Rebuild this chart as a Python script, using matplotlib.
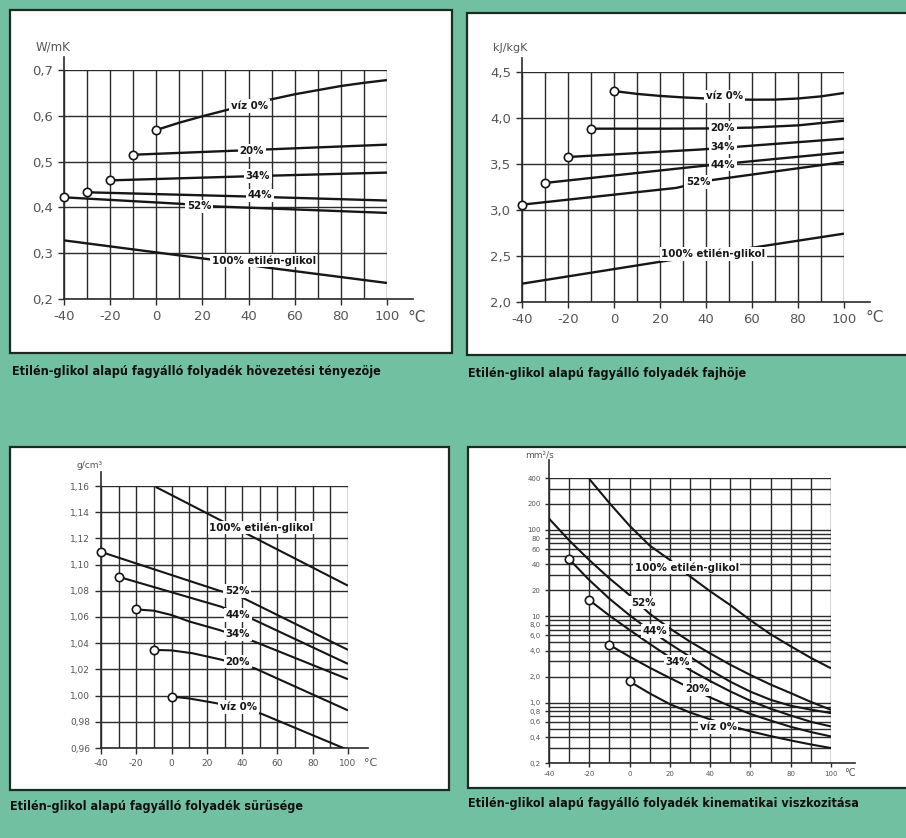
import numpy as np
import matplotlib
matplotlib.use("Agg")
import matplotlib.pyplot as plt
from matplotlib import font_manager as fm
from matplotlib.patches import Rectangle
from matplotlib.ticker import NullLocator

# ------------------------------------------------------------------ data
captions = [
    "Etilén-glikol alapú fagyálló folyadék hövezetési tényezöje",
    "Etilén-glikol alapú fagyálló folyadék fajhöje",
    "Etilén-glikol alapú fagyálló folyadék sürüsége",
    "Etilén-glikol alapú fagyálló folyadék kinematikai viszkozitása",
]
units = ["W/mK", "kJ/kgK", "g/cm³", "mm²/s"]
series_labels = ["víz 0%", "20%", "34%", "44%", "52%", "100% etilén-glikol"]

x_ticks = [-40, -20, 0, 20, 40, 60, 80, 100]
x_ticklabels = ["-40", "-20", "0", "20", "40", "60", "80", "100"]

k_ticks = [0.2, 0.3, 0.4, 0.5, 0.6, 0.7]
k_ticklabels = ["0,2", "0,3", "0,4", "0,5", "0,6", "0,7"]
k_T_viz = [0, 10, 20, 30, 40, 50, 60, 70, 80, 90, 100]
k_viz = [0.569, 0.585, 0.599, 0.612, 0.625, 0.636, 0.647, 0.656, 0.665, 0.672, 0.678]
k_T_20 = [-10, 30, 100]
k_20 = [0.515, 0.523, 0.537]
k_T_34 = [-20, 40, 100]
k_34 = [0.459, 0.468, 0.476]
k_T_44 = [-30, 38, 100]
k_44 = [0.433, 0.424, 0.415]
k_T_52 = [-40, 10, 26, 100]
k_52 = [0.422, 0.408, 0.402, 0.388]
k_T_100 = [-40, 24, 49, 100]
k_100 = [0.328, 0.286, 0.268, 0.235]

c_ticks = [2.0, 2.5, 3.0, 3.5, 4.0, 4.5]
c_ticklabels = ["2,0", "2,5", "3,0", "3,5", "4,0", "4,5"]
c_T_viz = [0, 10, 20, 30, 40, 50, 60, 70, 80, 90, 100]
c_viz = [4.293, 4.262, 4.240, 4.224, 4.212, 4.203, 4.199, 4.200, 4.212, 4.235, 4.272]
c_T_20 = [-10, 0, 20, 40, 60, 80, 100]
c_20 = [3.884, 3.884, 3.884, 3.886, 3.896, 3.920, 3.970]
c_T_34 = [-20, 38, 100]
c_34 = [3.576, 3.658, 3.775]
c_T_44 = [-30, 35, 100]
c_44 = [3.294, 3.470, 3.627]
c_T_52 = [-40, 27, 41, 100]
c_52 = [3.058, 3.240, 3.320, 3.522]
c_T_100 = [-40, 24, 64, 100]
c_100 = [2.199, 2.453, 2.605, 2.743]

d_ticks = [0.96, 0.98, 1.00, 1.02, 1.04, 1.06, 1.08, 1.10, 1.12, 1.14, 1.16]
d_ticklabels = ["0,96", "0,98", "1,00", "1,02", "1,04", "1,06", "1,08", "1,10",
                "1,12", "1,14", "1,16"]
d_T_viz = [0, 10, 25, 51, 100]
d_viz = [0.9993, 0.9978, 0.9943, 0.9861, 0.9585]
d_T_20 = [-10, 0, 12, 27, 47, 100]
d_20 = [1.0349, 1.0345, 1.0323, 1.0278, 1.0209, 0.9887]
d_T_34 = [-20, -10, 0, 10, 27, 47, 100]
d_34 = [1.0658, 1.0648, 1.0615, 1.0566, 1.0501, 1.0412, 1.0125]
d_T_44 = [-30, 28, 47, 100]
d_44 = [1.0907, 1.0679, 1.0577, 1.0242]
d_T_52 = [-40, 27, 39, 100]
d_52 = [1.1097, 1.0801, 1.0755, 1.0349]
d_T_100 = [-9, 46, 100]
d_100 = [1.1593, 1.1212, 1.0839]

v_ticks = [0.2, 0.4, 0.6, 0.8, 1.0, 2.0, 4.0, 6.0, 8.0, 10, 20, 40, 60, 80, 100, 200, 400]
v_ticklabels = ["0,2", "0,4", "0,6", "0,8", "1,0", "2,0", "4,0", "6,0", "8,0",
                "10", "20", "40", "60", "80", "100", "200", "400"]
v_T_viz = [0, 10, 20, 30, 40, 50, 60, 70, 80, 90, 100]
v_viz = [1.76, 1.28, 0.96, 0.77, 0.64, 0.54, 0.465, 0.41, 0.365, 0.328, 0.298]
v_T_20 = [-10, 0, 10, 20, 30, 40, 50, 60, 70, 80, 90, 100]
v_20 = [4.66, 3.41, 2.54, 1.93, 1.48, 1.15, 0.91, 0.74, 0.62, 0.525, 0.457, 0.406]
v_T_34 = [-20, -10, 0, 10, 20, 30, 40, 50, 60, 70, 80, 90, 100]
v_34 = [15.4, 10.2, 6.95, 4.79, 3.35, 2.39, 1.78, 1.35, 1.05, 0.85, 0.71, 0.60, 0.53]
v_T_44 = [-30, -20, -10, 0, 10, 20, 30, 40, 50, 60, 70, 80, 90, 100]
v_44 = [45.9, 26.3, 16.0, 10.3, 6.9, 4.8, 3.4, 2.39, 1.75, 1.34, 1.08, 0.92, 0.83, 0.757]
v_T_52 = [-40, -30, -20, -10, 0, 10, 20, 30, 40, 50, 60, 70, 80, 90, 100]
v_52 = [135.5, 75.9, 44.8, 27.5, 17.6, 10.7, 7.24, 5.09, 3.72, 2.75, 2.09, 1.62, 1.29, 1.02, 0.826]
v_T_100 = [-20, -10, 0, 10, 20, 30, 40, 50, 60, 70, 80, 90, 100]
v_100 = [390, 205, 112, 66, 45, 29, 19.5, 13.5, 9.0, 6.2, 4.5, 3.3, 2.5]

# ------------------------------------------------------------------ style
W, H = 906, 838
TEAL = "#70c0a1"
INK = "#161616"
GRID = "#2b2b2b"
TICKC = "#555555"
CAP_FS = 9.0
LAB_FS = 8.2


def _weight(f):
    w = f.weight
    if isinstance(w, str):
        w = fm.weight_dict.get(w, 400)
    return int(w)


def find_condensed():
    best = None
    for f in fm.fontManager.ttflist:
        st = str(f.stretch).lower()
        nm = f.name.lower()
        fn = f.fname.lower().replace("\\", "/").split("/")[-1]
        is_cond = ("condensed" in st or "narrow" in nm or "condensed" in nm
                   or "condensed" in fn or "narrow" in fn)
        if not is_cond or "semi" in fn or "semi" in st or "italic" in fn \
                or "oblique" in fn or "ital" in str(f.style).lower():
            continue
        w = _weight(f)
        score = abs(w - 800)
        if "extra" in fn or "extra" in st or "ultra" in fn:
            score += 150
        if best is None or score < best[0]:
            best = (score, f.fname)
    return best[1] if best else None


_cf = find_condensed()
if _cf:
    COND = fm.FontProperties(fname=_cf)
else:
    COND = fm.FontProperties(family="DejaVu Sans", weight="bold")
TICKF = ["DejaVu Sans"]

fig = plt.figure(figsize=(W / 100, H / 100), dpi=100)
fig.patch.set_facecolor(TEAL)


def fx(x):
    return x / W


def fy(y):
    return 1 - y / H


def cprops(size):
    p = COND.copy()
    p.set_size(size)
    return p


def white_box(x0, y0, x1, y1):
    r = Rectangle((fx(x0), fy(y1)), (x1 - x0) / W, (y1 - y0) / H,
                  transform=fig.transFigure, facecolor="white",
                  edgecolor="#1b2a22", lw=1.6, zorder=0.2)
    fig.add_artist(r)


def make_axes(left, top, right, bottom):
    ax = fig.add_axes([fx(left), fy(bottom), (right - left) / W, (bottom - top) / H])
    ax.set_zorder(2)
    ax.patch.set_alpha(0)
    for s in ax.spines.values():
        s.set_visible(False)
    return ax


def setup(ax, ylim, yticks, yticklabels, ygrid, tick_fs, ext_top, ext_right, log=False):
    if log:
        ax.set_yscale("log")
    ax.set_xlim(-40, 100)
    ax.set_ylim(*ylim)
    for t in range(-40, 101, 10):
        ax.axvline(t, color=GRID, lw=1.0, zorder=1)
    for v in ygrid:
        ax.axhline(v, color=GRID, lw=1.0, zorder=1)
    ax.set_xticks(x_ticks)
    ax.set_xticklabels(x_ticklabels, fontfamily=TICKF, color=TICKC, fontsize=tick_fs)
    ax.set_yticks(yticks)
    ax.set_yticklabels(yticklabels, fontfamily=TICKF, color=TICKC, fontsize=tick_fs)
    ax.yaxis.set_minor_locator(NullLocator())
    ax.xaxis.set_minor_locator(NullLocator())
    ax.tick_params(direction="out", length=4, width=1.0, color=GRID, pad=4)
    ax.plot([0, 0], [0, 1 + ext_top], transform=ax.transAxes, clip_on=False,
            color=GRID, lw=1.2, zorder=2)
    ax.plot([0, 1 + ext_right], [0, 0], transform=ax.transAxes, clip_on=False,
            color=GRID, lw=1.2, zorder=2)


def curve(ax, T, v, marker=True, lw=1.7):
    ax.plot(T, v, color=INK, lw=lw, zorder=3, solid_capstyle="butt")
    if marker:
        ax.plot(T[0], v[0], "o", mfc="white", mec=INK, ms=6, mew=1.2, zorder=6,
                clip_on=False)


def label(ax, x, y, s, fs):
    ax.text(x, y, s, ha="center", va="center", fontproperties=cprops(fs),
            color=INK, zorder=5,
            bbox=dict(facecolor="white", edgecolor="none", pad=1.2))


# ------------------------------------------------------------------ boxes & captions
white_box(10, 10, 452, 353)
white_box(467, 13, 915, 355)
white_box(10, 447, 449, 790)
white_box(468, 447, 915, 788)

cap_pos = [(12, 371), (468, 373), (10, 806), (468, 803)]
for (cx, cy), txt in zip(cap_pos, captions):
    fig.text(fx(cx), fy(cy), txt, ha="left", va="center",
             fontproperties=cprops(CAP_FS), color="#101010")

# ------------------------------------------------------------------ chart 1
ax1 = make_axes(64, 70, 387, 299)
setup(ax1, (0.2, 0.7), k_ticks, k_ticklabels, k_ticks, 9.5, 0.055, 0.08)
for T, v, m in [(k_T_viz, k_viz, True), (k_T_20, k_20, True), (k_T_34, k_34, True),
                (k_T_44, k_44, True), (k_T_52, k_52, True), (k_T_100, k_100, False)]:
    curve(ax1, T, v, m)
lab1 = [(40.4, 0.6215), (41.4, 0.524), (44, 0.469), (45, 0.426), (18.6, 0.402), (46.5, 0.284)]
for (x, y), s in zip(lab1, series_labels):
    label(ax1, x, y, s, LAB_FS)
fig.text(fx(53), fy(47), units[0], ha="center", va="center", fontsize=8.5,
         fontfamily=TICKF, color=TICKC)
fig.text(fx(417), fy(318), "°C", ha="center", va="center", fontsize=11,
         fontfamily=TICKF, color=TICKC)

# ------------------------------------------------------------------ chart 2
ax2 = make_axes(522, 72, 844, 302)
setup(ax2, (2.0, 4.5), c_ticks, c_ticklabels, c_ticks, 9.5, 0.06, 0.08)
for T, v, m in [(c_T_viz, c_viz, True), (c_T_20, c_20, True), (c_T_34, c_34, True),
                (c_T_44, c_44, True), (c_T_52, c_52, True), (c_T_100, c_100, False)]:
    curve(ax2, T, v, m)
lab2 = [(48, 4.235), (47.2, 3.891), (47.2, 3.685), (47.2, 3.493), (36.7, 3.304), (43.2, 2.525)]
for (x, y), s in zip(lab2, series_labels):
    label(ax2, x, y, s, LAB_FS)
fig.text(fx(510), fy(48), units[1], ha="center", va="center", fontsize=8,
         fontfamily=TICKF, color=TICKC)
fig.text(fx(875), fy(318), "°C", ha="center", va="center", fontsize=11,
         fontfamily=TICKF, color=TICKC)

# ------------------------------------------------------------------ chart 3
ax3 = make_axes(101, 486, 348, 748)
setup(ax3, (0.96, 1.16), d_ticks, d_ticklabels, d_ticks, 6.5, 0.053, 0.08)
for T, v, m in [(d_T_viz, d_viz, True), (d_T_20, d_20, True), (d_T_34, d_34, True),
                (d_T_44, d_44, True), (d_T_52, d_52, True), (d_T_100, d_100, False)]:
    curve(ax3, T, v, m, lw=1.5)
lab3 = [(38, 0.9912), (37.5, 1.026), (37.5, 1.0468), (37.5, 1.0615), (37.1, 1.080), (50.9, 1.1283)]
for (x, y), s in zip(lab3, series_labels):
    label(ax3, x, y, s, LAB_FS)
fig.text(fx(90), fy(465), units[2], ha="center", va="center", fontsize=6.5,
         fontfamily=TICKF, color=TICKC)
fig.text(fx(371), fy(763), "°C", ha="center", va="center", fontsize=8,
         fontfamily=TICKF, color=TICKC)

# ------------------------------------------------------------------ chart 4
ax4 = make_axes(549, 478, 831, 763)
v_grid = [m * 10.0 ** e for e in range(-1, 3) for m in range(1, 10)
          if 0.2 <= m * 10.0 ** e <= 400]
setup(ax4, (0.2, 400), v_ticks, v_ticklabels, v_grid, 5, 0.063, 0.085, log=True)
ax4.tick_params(length=3, pad=3)
for T, v, m in [(v_T_viz, v_viz, True), (v_T_20, v_20, True), (v_T_34, v_34, True),
                (v_T_44, v_44, True), (v_T_52, v_52, False), (v_T_100, v_100, False)]:
    curve(ax4, T, v, m, lw=1.5)
lab4 = [(44, 0.52), (33.7, 1.43), (24.1, 2.99), (12.5, 6.76), (6.7, 14.4), (28.3, 36.8)]
for (x, y), s in zip(lab4, series_labels):
    label(ax4, x, y, s, LAB_FS)
fig.text(fx(540), fy(455), units[3], ha="center", va="center", fontsize=6.5,
         fontfamily=TICKF, color=TICKC)
fig.text(fx(850), fy(773), "°C", ha="center", va="center", fontsize=7,
         fontfamily=TICKF, color=TICKC)

fig.savefig("out.png", dpi=100, facecolor=TEAL)
